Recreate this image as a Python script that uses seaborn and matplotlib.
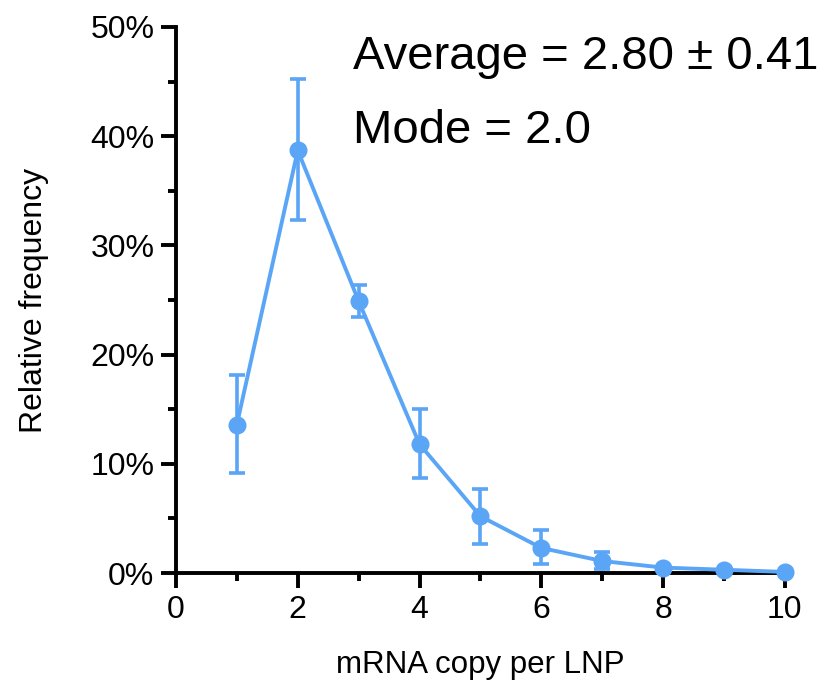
import matplotlib
matplotlib.use("Agg")
import matplotlib.pyplot as plt
import seaborn as sns
import pandas as pd
import numpy as np
from matplotlib.ticker import MultipleLocator, FuncFormatter

copies = [1, 2, 3, 4, 5, 6, 7, 8, 9, 10]
freq = [13.6, 38.7, 24.9, 11.8, 5.2, 2.3, 1.1, 0.5, 0.3, 0.1]
err_hi = [18.1, 45.2, 26.4, 15.0, 7.7, 3.9, 1.9, 0.5, 0.3, 0.1]
err_lo = [9.2, 32.3, 23.4, 8.7, 2.7, 0.8, 0.4, 0.5, 0.3, 0.1]

sns.set_style("ticks")
plt.rcParams['font.family'] = ['Liberation Sans', 'DejaVu Sans']
plt.rcParams['text.color'] = 'black'
plt.rcParams['axes.labelcolor'] = 'black'

color = '#5AA5F6'
df = pd.DataFrame({'copies': copies, 'freq': freq})

fig = plt.figure(figsize=(8.2, 6.83), dpi=100)
ax = fig.add_axes([0.2146, 0.161, 0.7425, 0.7995])

yerr = [np.array(freq) - np.array(err_lo), np.array(err_hi) - np.array(freq)]
ax.errorbar(copies, freq, yerr=yerr, fmt='none', ecolor=color, elinewidth=2.6,
            capsize=6, capthick=2.6, clip_on=False, zorder=3)
sns.lineplot(data=df, x='copies', y='freq', ax=ax, color=color, linewidth=2.8,
             marker='o', markersize=13, markeredgewidth=0, clip_on=False, zorder=4)

ax.set_xlim(0, 10)
ax.set_ylim(0, 50)
ax.xaxis.set_major_locator(MultipleLocator(2))
ax.xaxis.set_minor_locator(MultipleLocator(1))
ax.yaxis.set_major_locator(MultipleLocator(10))
ax.yaxis.set_minor_locator(MultipleLocator(5))
ax.yaxis.set_major_formatter(FuncFormatter(lambda v, p: f"{int(v)}%"))

for s in ['top', 'right']:
    ax.spines[s].set_visible(False)
for s in ['left', 'bottom']:
    ax.spines[s].set_linewidth(2.8)
    ax.spines[s].set_color('black')

ax.tick_params(axis='both', which='major', length=10.5, width=2.8, labelsize=23, direction='out', pad=5, colors='black')
ax.tick_params(axis='both', which='minor', length=6, width=2.8, direction='out', colors='black')

ax.set_xlabel('mRNA copy per LNP', fontsize=22.5, labelpad=18)
ax.set_ylabel('Relative frequency', fontsize=23, labelpad=30)

fig.text(353/820, 1 - 57/683, 'Average = 2.80 ± 0.41', fontsize=34, va='center', ha='left')
fig.text(353/820, 1 - 131/683, 'Mode = 2.0', fontsize=34, va='center', ha='left')

fig.savefig('out.png', dpi=100)
